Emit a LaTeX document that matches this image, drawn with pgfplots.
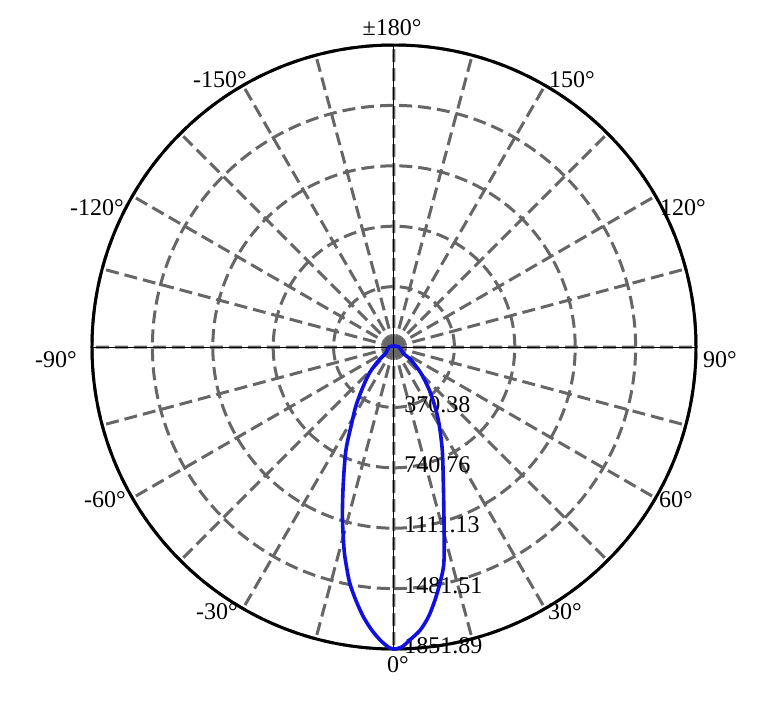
\documentclass[border=0pt]{standalone}
\usepackage{fontspec}
\setmainfont{Liberation Serif}
\usepackage{pgfplots}
\usepackage{pgfplotstable}
\pgfplotsset{compat=1.18}
\usepgfplotslibrary{polar}

\definecolor{gridgray}{HTML}{666666}
\definecolor{lobeblue}{HTML}{1010E0}

% angle (0 = down, 90 = right), intensity
\pgfplotstableread{
angle cd
-180 6
-90 31
-52.8 64
-49.1 122
-43.2 221
-36.9 330
-32.7 435
-29.0 535
-25.0 697
-20.4 892
-16.9 1088
-13.8 1282
-12.2 1378
-10.6 1474
-8.6 1569
-6.5 1664
-4.5 1741
-2.7 1799
-1.1 1840
0 1851.89
1.5 1840
3.1 1799
5.3 1743
7.3 1667
9.2 1572
11.0 1476
12.7 1381
13.9 1282
16.4 1085
19.9 889
25.1 698
30.5 543
34.5 444
39.4 341
45.8 231
52.6 131
55.9 69
90 31
180 6
}\lobe

\begin{document}
\begin{tikzpicture}
\path[use as bounding box] (-197pt,-180pt) rectangle (193pt,173.5pt);
\begin{polaraxis}[
    at={(0,0)}, anchor=origin,
    scale only axis,
    width=302pt, height=302pt,
    clip=false,
    xmin=-90, xmax=270,
    ymin=0, ymax=1851.89,
    xtick={-90,-60,...,240},
    xticklabels={},
    minor xtick={-75,-45,...,255},
    ytick={370.38,740.76,1111.13,1481.51,1851.89},
    yticklabels={370.38,740.76,1111.13,1481.51,1851.89},
    grid=both,
    major grid style={gridgray, line width=1.5pt, dash pattern=on 6.5pt off 3pt},
    minor grid style={gridgray, line width=1.5pt, dash pattern=on 6.5pt off 3pt},
    separate axis lines,
    x axis line style={black, line width=1.5pt},
    y axis line style={draw=none},
    major tick length=0pt, minor tick length=0pt,
    tick label style={font=\fontsize{12}{14}\selectfont},
    yticklabel style={anchor=west, inner sep=0pt, xshift=5pt, yshift=1.5pt},
]
\addplot[black, line width=0.5pt] coordinates {(-90,1851.89) (90,1851.89)};
\addplot[black, line width=0.5pt] coordinates {(0,1851.89) (180,1851.89)};
\addplot[lobeblue, line width=1.8pt, smooth, no marks, line join=round]
    table[x expr=\thisrow{angle}-90, y=cd] {\lobe};
\begin{scope}[font=\fontsize{12}{14}\selectfont]
\node at (axis cs:90.36,1956) {±180°};
\node at (axis cs:56.31,1968) {150°};
\node at (axis cs:25.69,1966) {120°};
\node at (axis cs:-2.28,2001) {90°};
\node at (axis cs:-28.48,1967) {60°};
\node at (axis cs:-57.17,1934) {30°};
\node at (axis cs:-89.28,1950) {0°};
\node at (axis cs:236.26,1954) {-30°};
\node at (axis cs:207.9,2005) {-60°};
\node at (axis cs:182.2,2074) {-90°};
\node at (axis cs:154.9,2011) {-120°};
\node at (axis cs:123.09,1954) {-150°};
\end{scope}
\end{polaraxis}
\end{tikzpicture}
\end{document}
